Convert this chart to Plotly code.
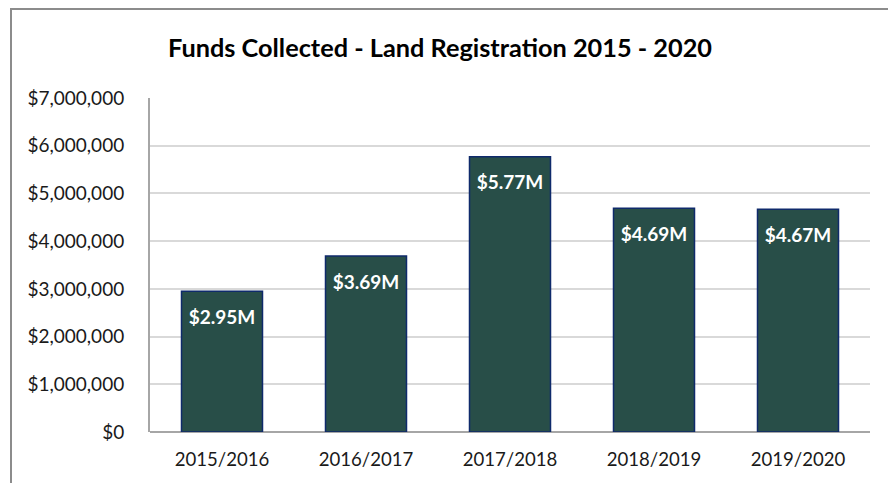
import plotly.graph_objects as go

years = ["2015/2016", "2016/2017", "2017/2018", "2018/2019", "2019/2020"]
funds = [2950000, 3690000, 5770000, 4690000, 4670000]
labels = ["$2.95M", "$3.69M", "$5.77M", "$4.69M", "$4.67M"]
y_ticks = [0, 1000000, 2000000, 3000000, 4000000, 5000000, 6000000, 7000000]

# page body has an 8px margin; place the figure content to compensate
OFF = 8
W, H = 896, 483
L, R, T, B = 150 - OFF, 26 + OFF, 98 - OFF, 51 + OFF

fig = go.Figure(go.Bar(
    x=years, y=funds, text=labels,
    textposition="inside", insidetextanchor="end",
    texttemplate="<span style='font-size:5px'> </span><br>%{text}",
    textfont=dict(family="Lato", size=19, color="white", weight="bold"),
    marker=dict(color="#284E48", line=dict(color="#0F2A6B", width=1.5)),
    width=0.5625,
    cliponaxis=False,
))

pw = W - L - R
ph = H - T - B
bx = (11 - OFF - L) / pw
ty = (H - B - (8 - OFF) - 1) / ph
fig.add_shape(type="path", xref="paper", yref="paper",
              path=f"M {bx} -1 L {bx} {ty} L 2 {ty}",
              line=dict(color="#8C8C8C", width=2), layer="above")

fig.update_layout(
    width=W, height=H,
    margin=dict(l=L, r=R, t=T, b=B, autoexpand=False),
    paper_bgcolor="white", plot_bgcolor="white",
    showlegend=False,
    font=dict(family="Lato", color="#1a1a1a"),
    title=dict(text="<b>Funds Collected - Land Registration 2015 - 2020</b>",
               x=(440 - OFF) / W, xanchor="center", xref="container",
               y=1 - (48 - OFF) / H, yanchor="middle", yref="container",
               font=dict(family="Lato", size=25.3, color="black")),
    xaxis=dict(showline=False, ticks="", tickfont=dict(size=18.6),
               ticklabelstandoff=14, automargin=False),
    yaxis=dict(range=[0, 7000000], tickvals=y_ticks, tickformat="$,.0f",
               showgrid=True, gridcolor="#D9D9D9", gridwidth=2,
               showline=True, linecolor="#A6A6A6", linewidth=2,
               zeroline=True, zerolinecolor="#A6A6A6", zerolinewidth=2,
               ticks="", tickfont=dict(size=19), ticklabelstandoff=20,
               automargin=False),
    bargap=0.4375,
)

fig.write_html("out.html")
